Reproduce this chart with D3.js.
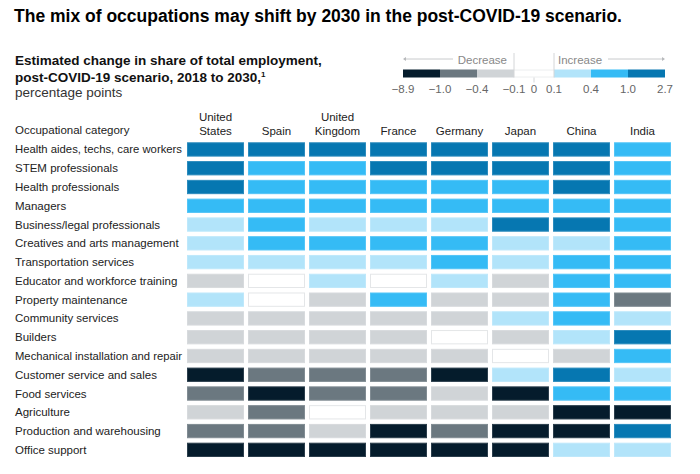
<!DOCTYPE html>
<html><head><meta charset="utf-8">
<script src="https://cdn.jsdelivr.net/npm/d3@7"></script>
<style>
body{margin:0;background:#fff;}
svg{display:block;font-family:"Liberation Sans",Arial,sans-serif;}
</style>
</head><body><svg id="c" width="700" height="474"></svg>
<script>
// ---------- data ----------
const titleText = "The mix of occupations may shift by 2030 in the post-COVID-19 scenario.";
const subtitleLine1 = "Estimated change in share of total employment,";
const subtitleLine2 = "post-COVID-19 scenario, 2018 to 2030,";
const footnoteMark = "1";
const unitText = "percentage points";
const rowHeader = "Occupational category";

const countries = ["United States","Spain","United Kingdom","France","Germany","Japan","China","India"];
const countryHeaderLines = [["United","States"],["Spain"],["United","Kingdom"],["France"],["Germany"],["Japan"],["China"],["India"]];

const categories = [
  "Health aides, techs, care workers",
  "STEM professionals",
  "Health professionals",
  "Managers",
  "Business/legal professionals",
  "Creatives and arts management",
  "Transportation services",
  "Educator and workforce training",
  "Property maintenance",
  "Community services",
  "Builders",
  "Mechanical installation and repair",
  "Customer service and sales",
  "Food services",
  "Agriculture",
  "Production and warehousing",
  "Office support"
];

// estimated change in share of employment, percentage points (read from colour bins)
const unitedStates  = [2.1, 1.6, 1.3, 0.8, 0.3, 0.2, 0.2, -0.2, 0.2, -0.2, -0.3, -0.3, -1.6, -0.7, -0.2, -0.8, -2.4];
const spain         = [1.8, 0.7, 0.6, 0.8, 0.5, 0.5, 0.3, 0.0, 0.0, -0.2, -0.3, -0.2, -0.9, -1.9, -0.6, -0.7, -1.8];
const unitedKingdom = [1.9, 0.8, 0.7, 0.9, 0.3, 0.5, 0.2, 0.2, -0.2, -0.2, -0.3, -0.2, -0.8, -0.6, 0.0, -0.3, -2.0];
const france        = [2.0, 1.2, 0.7, 0.8, 0.3, 0.6, 0.2, 0.0, 0.5, -0.2, -0.3, -0.3, -0.9, -0.6, -0.3, -1.3, -2.2];
const germany       = [2.3, 1.4, 0.8, 0.7, 0.2, 0.5, 0.5, 0.2, -0.2, -0.2, 0.0, -0.3, -1.4, -0.3, -0.2, -0.8, -2.5];
const japan         = [2.7, 1.3, 0.9, 0.6, 1.2, 0.3, 0.2, -0.3, -0.2, 0.2, -0.2, 0.0, 0.2, -1.5, -0.3, -1.7, -3.1];
const china         = [1.5, 1.1, 1.2, 0.9, 1.3, 0.3, 0.9, 0.7, 0.6, 0.5, 0.3, -0.2, 1.4, 0.6, -8.9, -1.2, 0.2];
const india         = [0.9, 0.6, 0.5, 0.7, 0.6, 0.5, 0.8, 0.6, -0.5, 0.3, 2.1, 0.7, 0.3, 0.8, -4.0, 1.6, 0.2];
const seriesValues = [unitedStates, spain, unitedKingdom, france, germany, japan, china, india];

const binThresholds = [-1.0, -0.4, -0.1, 0.1, 0.4, 1.0];
const legendExtent = [-8.9, 2.7];
const legendTicks = [-8.9, -1.0, -0.4, -0.1, 0, 0.1, 0.4, 1.0, 2.7];
const binColors = ["#051c2c","#6b7880","#d0d4d7","#ffffff","#b2e4fa","#35bbf5","#0677b1"];
const decreaseLabel = "Decrease";
const increaseLabel = "Increase";

// ---------- build ----------
const svg = d3.select("#c");
const color = d3.scaleThreshold().domain(binThresholds).range(binColors);

const cells = [];
countries.forEach((c, ci) => categories.forEach((cat, ri) =>
  cells.push({country: c, category: cat, value: seriesValues[ci][ri]})));

// Title
svg.append("text").attr("x", 14).attr("y", 22)
  .attr("font-size", 17.5).attr("font-weight", 700).attr("fill", "#000")
  .attr("textLength", 608).attr("lengthAdjust", "spacingAndGlyphs")
  .text(titleText);

// Subtitle
svg.append("text").attr("x", 15).attr("y", 65)
  .attr("font-size", 13.5).attr("font-weight", 700).attr("fill", "#111")
  .text(subtitleLine1);
const st2 = svg.append("text").attr("x", 15).attr("y", 82)
  .attr("font-size", 13.5).attr("font-weight", 700).attr("fill", "#111");
st2.append("tspan").text(subtitleLine2);
st2.append("tspan").attr("font-size", 8).attr("dy", -5).text(footnoteMark);
svg.append("text").attr("x", 15).attr("y", 97)
  .attr("font-size", 13.5).attr("fill", "#333").text(unitText);

// Scales for heatmap
const x = d3.scaleBand().domain(countries).range([187, 671]).paddingInner(4/61).paddingOuter(0);
const y = d3.scaleBand().domain(categories).range([142.3, 457]).paddingInner(0.238).paddingOuter(0);

// Column headers
const hdr = svg.append("g").attr("font-size", 11.5).attr("fill", "#222").attr("text-anchor", "middle");
countries.forEach((c, i) => {
  const lines = countryHeaderLines[i];
  lines.forEach((ln, j) => {
    hdr.append("text")
      .attr("x", x(c) + x.bandwidth()/2)
      .attr("y", 135 - (lines.length - 1 - j) * 14.3)
      .text(ln);
  });
});
svg.append("text").attr("x", 15).attr("y", 134).attr("font-size", 11.5).attr("fill", "#222").text(rowHeader);

// Row labels
svg.append("g").selectAll("text").data(categories).join("text")
  .attr("x", 15).attr("y", d => y(d) + y.bandwidth()/2 + 4)
  .attr("font-size", 11.5).attr("fill", "#222")
  .text(d => d)
  .each(function(){ const w = this.getComputedTextLength(); if (w > 167) { d3.select(this).attr("textLength", 167).attr("lengthAdjust","spacingAndGlyphs"); } });

// Cells
svg.append("g").selectAll("rect").data(cells).join("rect")
  .attr("x", d => x(d.country) + 0.5)
  .attr("y", d => y(d.category) + 0.5)
  .attr("width", x.bandwidth() - 1)
  .attr("height", y.bandwidth() - 1)
  .attr("fill", d => color(d.value))
  .attr("stroke", d => { const f = color(d.value); return f === "#ffffff" ? "#e4e6e8" : d3.interpolateRgb(f, "#ffffff")(0.15); })
  .attr("stroke-width", 1);

// ---------- Legend ----------
const segW = 37, midW = 40, legX0 = 403;
const legDomain = [legendExtent[0], ...binThresholds, legendExtent[1]];
const legRange = [legX0];
for (let i = 1; i < legDomain.length; i++) legRange.push(legRange[i-1] + (i === 4 ? midW : segW));
const lx = d3.scaleLinear().domain(legDomain).range(legRange);
const legY = 69.5, legH = 8;
const legend = svg.append("g");
const segs = d3.range(binColors.length).map(i => ({a: legDomain[i], b: legDomain[i+1], c: binColors[i]}));
legend.selectAll("rect").data(segs).join("rect")
  .attr("x", d => lx(d.a)).attr("y", legY)
  .attr("width", d => lx(d.b) - lx(d.a)).attr("height", legH)
  .attr("fill", d => d.c);
// white segment outline (top/bottom)
legend.append("line").attr("x1", lx(-0.1)).attr("x2", lx(0.1)).attr("y1", legY+0.5).attr("y2", legY+0.5).attr("stroke", "#eceeef");
legend.append("line").attr("x1", lx(-0.1)).attr("x2", lx(0.1)).attr("y1", legY+legH-0.5).attr("y2", legY+legH-0.5).attr("stroke", "#eceeef");
// separators
[-0.1, 0.1].forEach(v => legend.append("line")
  .attr("x1", lx(v)).attr("x2", lx(v)).attr("y1", 53).attr("y2", legY + legH)
  .attr("stroke", "#d4d6d8"));
legend.append("line").attr("x1", lx(0)).attr("x2", lx(0)).attr("y1", legY + legH).attr("y2", legY + legH + 5).attr("stroke", "#d4d6d8");
// tick labels
legend.selectAll("text.tk").data(legendTicks).join("text").attr("class", "tk")
  .attr("x", d => lx(d)).attr("y", 93)
  .attr("text-anchor", "middle").attr("font-size", 11.5).attr("fill", "#666")
  .text(d => d === 0 ? "0" : d3.format(".1f")(d).replace("-", "\u2212"));
// Decrease / Increase labels with arrows
const arrowY = 59;
legend.append("text").attr("x", lx(-0.1) - 7).attr("y", 63.5).attr("text-anchor", "end")
  .attr("font-size", 11.5).attr("fill", "#888").text(decreaseLabel);
legend.append("text").attr("x", lx(0.1) + 4).attr("y", 63.5)
  .attr("font-size", 11.5).attr("fill", "#888").text(increaseLabel);
legend.append("line").attr("x1", lx(-8.9) + 1).attr("x2", lx(-0.1) - 61).attr("y1", arrowY).attr("y2", arrowY).attr("stroke", "#c8cacc");
legend.append("path").attr("d", `M${lx(-8.9)},${arrowY} l3,-2 v4 z`).attr("fill", "#b8babc");
legend.append("line").attr("x1", lx(0.1) + 54).attr("x2", lx(2.7) - 1).attr("y1", arrowY).attr("y2", arrowY).attr("stroke", "#c8cacc");
legend.append("path").attr("d", `M${lx(2.7)},${arrowY} l-3,-2 v4 z`).attr("fill", "#b8babc");
</script>
</body></html>
